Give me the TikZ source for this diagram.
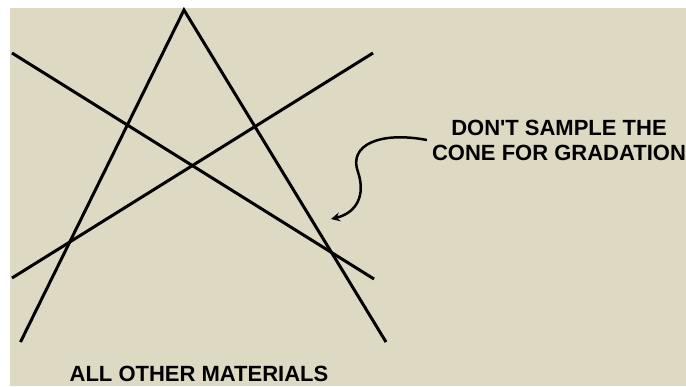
\documentclass[tikz,border=0pt]{standalone}
\usepackage{fontspec}
\setmainfont{Liberation Sans}
\usepackage{xcolor}
\usepackage{tikz}
\usetikzlibrary{arrows.meta, positioning, calc}
\definecolor{sandbg}{HTML}{DDD9C3}

\begin{document}
\begin{tikzpicture}[
    x=1pt, y=-1pt,
    every node/.style={font=\fontsize{22}{25}\selectfont\bfseries},
    cone/.style={line width=3pt, color=black},
    note/.style={align=center, inner sep=5pt},
    pointer/.style={-{Stealth[length=9pt, width=9pt, inset=3pt]},
                    line width=2.5pt, color=black}
]

% page and backdrop
\useasboundingbox (0,0) rectangle (686,386);
\fill[white] (0,0) rectangle (686,386);
\fill[sandbg] (10,8) rectangle (686,386);

% the stockpile cone and the crossing lines
\coordinate (apex) at (184,10);
\coordinate (legL) at (20.5,342);
\coordinate (legR) at (386,342);
\draw[cone] (legL) -- (apex) -- (legR);
\draw[cone] (12,53) -- (374,279);
\draw[cone] (12,278) -- (373,53);

% labels
\node[note] (warn) at (559,140) {DON\textquotesingle T SAMPLE THE\\CONE FOR GRADATION};
\node[anchor=base] (other) at (199,381) {ALL OTHER MATERIALS};

\coordinate (target) at (331,219);
\draw[pointer] (warn.west) .. controls (380,131) and (348,145) .. (358,172)
    .. controls (366,196) and (356,213) .. (target);

\end{tikzpicture}
\end{document}
